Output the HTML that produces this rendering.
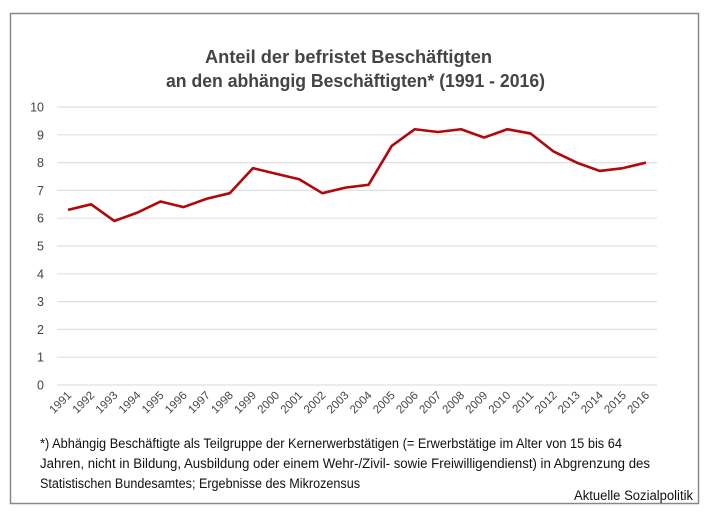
<!DOCTYPE html>
<html><head><meta charset="utf-8"><style>
body{margin:0;background:#fff}
svg{display:block;font-family:"Liberation Sans",Arial,sans-serif}
</style></head><body>
<svg id="chart" width="709" height="517">
<rect x="10.5" y="13.5" width="688" height="490" fill="#fff" stroke="#888" stroke-width="1.5"/>
<text x="348.5" y="63" text-anchor="middle" font-size="18" font-weight="bold" fill="#444" textLength="287" lengthAdjust="spacingAndGlyphs">Anteil der befristet Beschäftigten</text>
<text x="355.5" y="87" text-anchor="middle" font-size="18" font-weight="bold" fill="#444" textLength="379" lengthAdjust="spacingAndGlyphs">an den abhängig Beschäftigten* (1991 - 2016)</text>
<g id="grid"></g><g id="yt"></g><g id="xt"></g><g id="series"></g>
<text x="40" y="448" font-size="13.5" fill="#111" textLength="582" lengthAdjust="spacingAndGlyphs">*) Abhängig Beschäftigte als Teilgruppe der Kernerwerbstätigen (=  Erwerbstätige im Alter von 15 bis 64</text>
<text x="40" y="468" font-size="13.5" fill="#111" textLength="610" lengthAdjust="spacingAndGlyphs">Jahren, nicht in Bildung, Ausbildung oder einem Wehr-/Zivil- sowie Freiwilligendienst) in Abgrenzung des</text>
<text x="40" y="488" font-size="13.5" fill="#111" textLength="320" lengthAdjust="spacingAndGlyphs">Statistischen Bundesamtes; Ergebnisse des Mikrozensus</text>
<text x="693" y="500" text-anchor="end" font-size="13.5" fill="#111" textLength="119" lengthAdjust="spacingAndGlyphs">Aktuelle Sozialpolitik</text>
</svg>
<script>
const years=["1991","1992","1993","1994","1995","1996","1997","1998","1999","2000","2001","2002","2003","2004","2005","2006","2007","2008","2009","2010","2011","2012","2013","2014","2015","2016"];
const values=[6.3,6.5,5.9,6.2,6.6,6.4,6.7,6.9,7.8,7.6,7.4,6.9,7.1,7.2,8.6,9.2,9.1,9.2,8.9,9.2,9.05,8.4,8.0,7.7,7.8,8.0];
const yTicks=[0,1,2,3,4,5,6,7,8,9,10];
const NS="http://www.w3.org/2000/svg";
const x0=68,x1=646,yb=385,yt=107,gl=57,gr=657;
function X(i){return x0+(x1-x0)*i/(years.length-1);}
function Y(v){return yb-(yb-yt)*v/10;}
function mk(t,a,p){const e=document.createElementNS(NS,t);for(const k in a)e.setAttribute(k,a[k]);document.getElementById(p).appendChild(e);return e;}
yTicks.forEach(v=>{
 const l=mk('line',{x1:gl,x2:gr,y1:Y(v),y2:Y(v),stroke:'#e0e0e0','stroke-width':1.2},'grid');
 
 
 const t=mk('text',{x:44,y:Y(v)+4.5,'text-anchor':'end','font-size':12.5,fill:'#444'},'yt');
 t.textContent=v;
 
 
});
years.forEach((y,i)=>{
 const t=mk('text',{x:X(i)+4,y:396,'text-anchor':'end','font-size':11.5,fill:'#444',transform:`rotate(-45 ${X(i)+4} 396)`},'xt');
 t.textContent=y;
 
 
});
const p=mk('polyline',{points:values.map((v,i)=>X(i)+','+Y(v)).join(' '),fill:'none',stroke:'#b0080b','stroke-width':2.6,'stroke-linejoin':'round'},'series');


</script>
</body></html>
